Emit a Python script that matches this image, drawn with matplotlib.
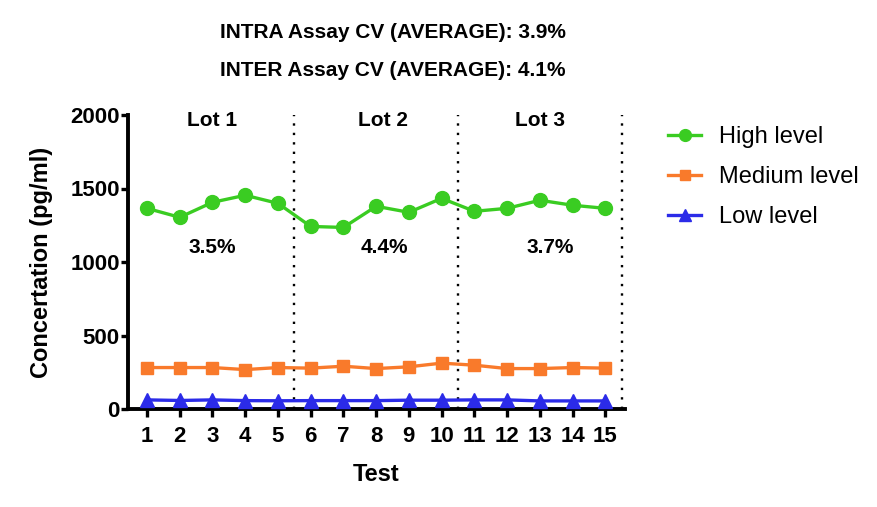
import matplotlib
matplotlib.use('Agg')
import matplotlib.pyplot as plt

plt.rcParams['font.family'] = ['Liberation Sans', 'DejaVu Sans']

tests = list(range(1, 16))
high = [1365, 1304, 1406, 1454, 1399, 1242, 1235, 1379, 1338, 1433, 1345, 1365, 1420, 1386, 1365]
medium = [282, 282, 282, 268, 282, 278, 291, 275, 287, 312, 298, 275, 275, 282, 278]
low = [62, 58, 62, 57, 56, 57, 57, 57, 60, 60, 62, 62, 55, 55, 55]

lot_labels = ["Lot 1", "Lot 2", "Lot 3"]
lot_cv = ["3.5%", "4.4%", "3.7%"]
lot_bounds = [5.5, 10.5, 15.5]
yticks = [0, 500, 1000, 1500, 2000]

GREEN = "#3ACC22"
ORANGE = "#F97A2B"
BLUE = "#2B2BE8"

fig = plt.figure(figsize=(8.78, 5.07), dpi=100)
ax = fig.add_axes([128 / 878, 1 - 409 / 507, 497 / 878, 294 / 507])

ax.plot(tests, high, color=GREEN, marker='o', markersize=10, linewidth=2.4,
        label="High level", clip_on=False, zorder=3)
ax.plot(tests, medium, color=ORANGE, marker='s', markersize=9, linewidth=2.4,
        label="Medium level", clip_on=False, zorder=3)
ax.plot(tests, low, color=BLUE, marker='^', markersize=10, linewidth=2.4,
        label="Low level", clip_on=False, zorder=3)

for xb in lot_bounds:
    ax.axvline(xb, color='black', linestyle=(0, (1, 3)), linewidth=1.7, zorder=2)

# lot names and per-lot CV text
for xpos, lab in zip([3, 8.2, 13.0], lot_labels):
    ax.text(xpos, 1965, lab, ha='center', va='center', fontsize=15, fontweight='bold')
for xpos, cv in zip([3, 8.25, 13.3], lot_cv):
    ax.text(xpos, 1100, cv, ha='center', va='center', fontsize=15, fontweight='bold')

ax.set_xlim(0.42, 15.6)
ax.set_ylim(0, 2000)
ax.set_xticks(tests)
ax.set_yticks(yticks)
ax.tick_params(axis='both', direction='out', width=2.4, labelsize=16)
ax.tick_params(axis='y', length=5, pad=1)
ax.tick_params(axis='x', length=6, pad=6)
for lbl in ax.get_xticklabels() + ax.get_yticklabels():
    lbl.set_fontweight('bold')

for s in ['top', 'right']:
    ax.spines[s].set_visible(False)
for s in ['left', 'bottom']:
    ax.spines[s].set_linewidth(2.8)

ax.set_xlabel("Test", fontsize=17, fontweight='bold', labelpad=12)
ax.set_ylabel("Concertation (pg/ml)", fontsize=17, fontweight='bold', labelpad=12)

fig.text(393 / 878, 1 - 33 / 507, "INTRA Assay CV (AVERAGE): 3.9%", ha='center', va='center',
         fontsize=15, fontweight='bold')
fig.text(393 / 878, 1 - 70 / 507, "INTER Assay CV (AVERAGE): 4.1%", ha='center', va='center',
         fontsize=15, fontweight='bold')

fig.legend(loc='upper left', bbox_to_anchor=(659 / 878, 1 - 117 / 507), frameon=False,
           fontsize=17, handlelength=1.4, labelspacing=0.75, handletextpad=0.76,
           borderaxespad=0, markerscale=0.85)

fig.savefig("out.png", dpi=100)
